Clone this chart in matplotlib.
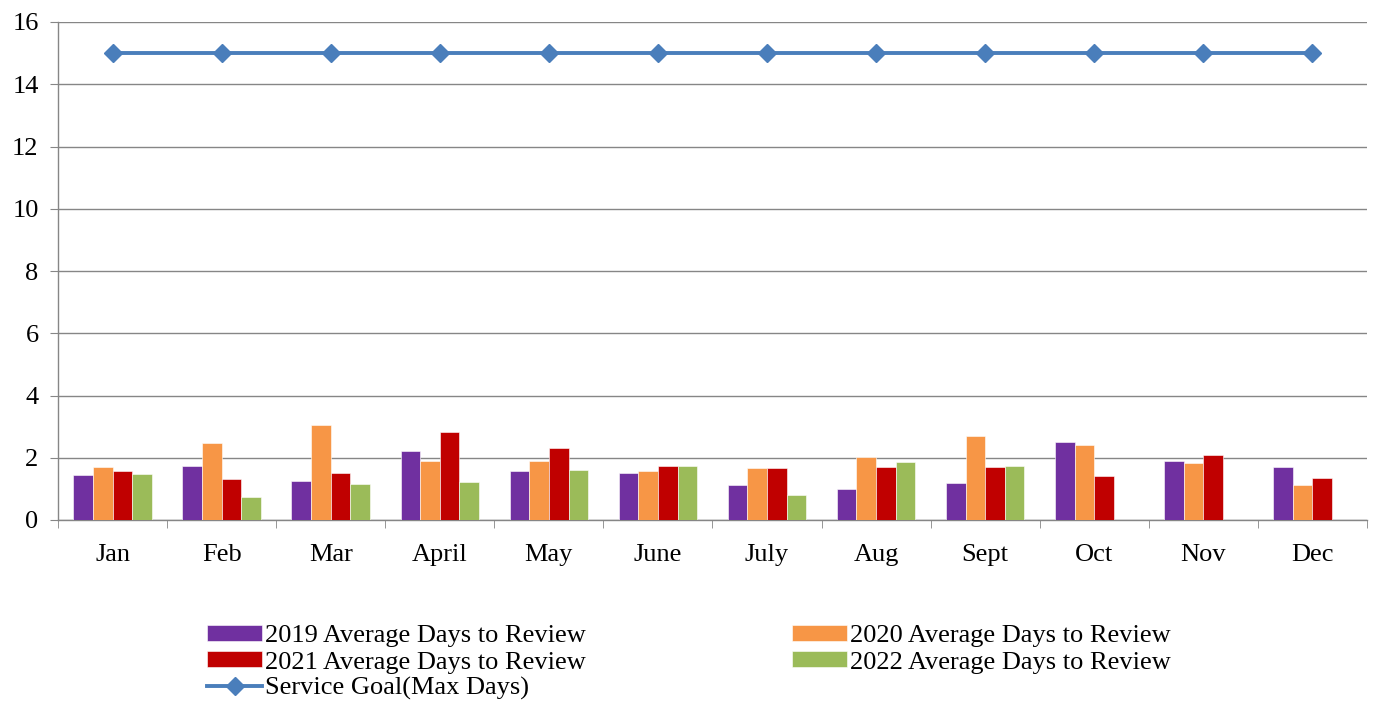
import matplotlib.pyplot as plt
import numpy as np

plt.rcParams['font.family'] = ['Liberation Serif', 'DejaVu Serif']

months = ["Jan", "Feb", "Mar", "April", "May", "June", "July", "Aug", "Sept", "Oct", "Nov", "Dec"]
y2019 = [1.46, 1.75, 1.24, 2.22, 1.58, 1.52, 1.14, 0.99, 1.20, 2.49, 1.89, 1.69]
y2020 = [1.70, 2.47, 3.06, 1.89, 1.90, 1.59, 1.68, 2.02, 2.69, 2.41, 1.82, 1.11]
y2021 = [1.57, 1.31, 1.52, 2.84, 2.31, 1.72, 1.67, 1.69, 1.71, 1.42, 2.08, 1.35]
y2022 = [1.49, 0.74, 1.15, 1.22, 1.61, 1.72, 0.81, 1.87, 1.75, np.nan, np.nan, np.nan]
goal = [15] * 12

series = [
    (y2019, "#7030A0", "2019 Average Days to Review"),
    (y2020, "#F79646", "2020 Average Days to Review"),
    (y2021, "#C00000", "2021 Average Days to Review"),
    (y2022, "#9BBB59", "2022 Average Days to Review"),
]

fig = plt.figure(figsize=(13.74, 7.01), dpi=100)
ax = fig.add_axes([58 / 1374, 181 / 701, 1309 / 1374, 498 / 701])

x = np.arange(len(months))
w = 0.18
handles = {}
for i, (vals, col, lab) in enumerate(series):
    b = ax.bar(x + (i - 1.5) * w, vals, w, color=col, label=lab, zorder=3,
               edgecolor="white", linewidth=0.4)
    handles[lab] = b

line, = ax.plot(x, goal, color="#4A7EBB", lw=2.8, marker="D", markersize=9,
                label="Service Goal(Max Days)", zorder=4)

ax.set_xlim(-0.5, 11.5)
ax.set_ylim(0, 16)
ax.set_yticks(range(0, 17, 2))
ax.set_xticks(x)
ax.set_xticklabels(months)
ax.set_xticks(np.arange(-0.5, 12, 1), minor=True)
ax.tick_params(axis="x", which="major", length=0, pad=17, labelsize=19)
ax.tick_params(axis="x", which="minor", length=6, color="#868686", direction="out")
ax.tick_params(axis="y", length=6, color="#868686", labelsize=19, pad=8)
ax.yaxis.grid(True, color="#868686", lw=1, zorder=0)
for s in ["top", "right"]:
    ax.spines[s].set_visible(False)
for s in ["left", "bottom"]:
    ax.spines[s].set_color("#868686")
    ax.spines[s].set_linewidth(1)

order = [handles[series[0][2]], handles[series[2][2]], line,
         handles[series[1][2]], handles[series[3][2]]]
labels = [series[0][2], series[2][2], "Service Goal(Max Days)", series[1][2], series[3][2]]
fig.legend(order, labels, ncol=2, loc="upper left", bbox_to_anchor=(207 / 1374, 1 - 625 / 701),
           frameon=False, fontsize=19, handlelength=2.1, handleheight=0.57,
           handletextpad=0.1, columnspacing=7.8, labelspacing=0.14, borderpad=0,
           borderaxespad=0)

fig.savefig("out.png", dpi=100)
